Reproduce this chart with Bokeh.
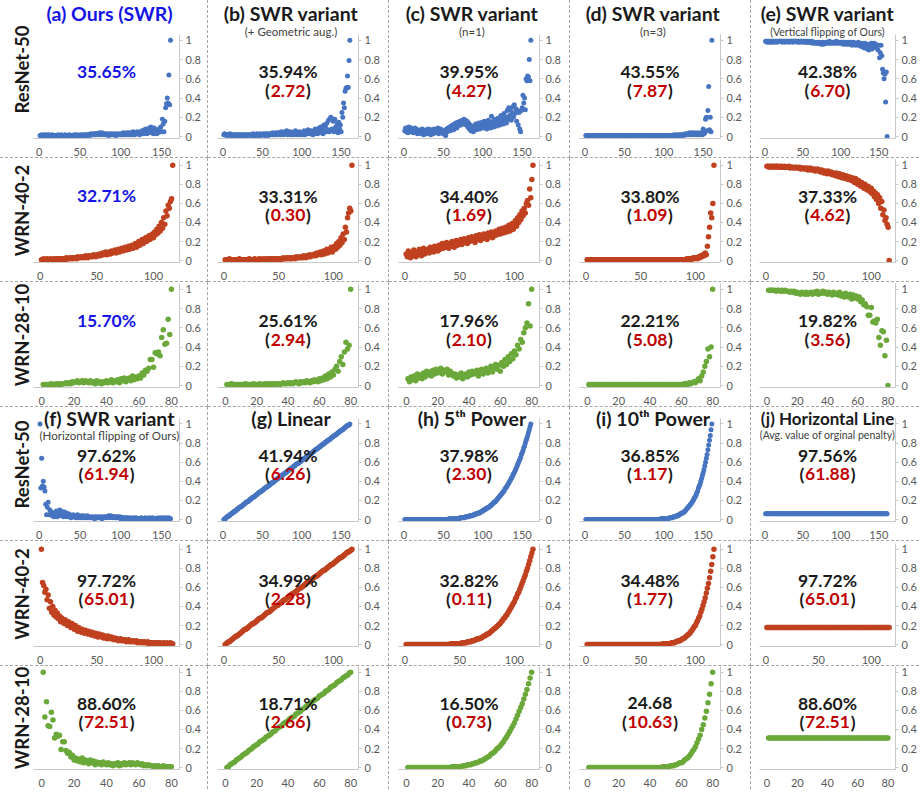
from bokeh.plotting import figure
from bokeh.models import Range1d, FixedTicker, Label, Title
from bokeh.layouts import row, column
from bokeh.embed import file_html
from bokeh.resources import INLINE

# ------------------------------------------------------------------ data
networks = ["ResNet-50", "WRN-40-2", "WRN-28-10"]
x_ticks = {"ResNet-50": [0, 50, 100, 150], "WRN-40-2": [0, 50, 100], "WRN-28-10": [0, 20, 40, 60, 80]}
y_ticks = [0, 0.2, 0.4, 0.6, 0.8, 1]
y_tick_labels = ["0", "0.2", "0.4", "0.6", "0.8", "1"]

top_titles = ["(a) Ours (SWR)", "(b) SWR variant", "(c) SWR variant", "(d) SWR variant", "(e) SWR variant"]
top_subtitles = ["", "(+ Geometric aug.)", "(n=1)", "(n=3)", "(Vertical flipping of Ours)"]
bottom_titles = ["(f) SWR variant", "(g) Linear", "(h) 5\u1d57\u02b0 Power", "(i) 10\u1d57\u02b0 Power", "(j) Horizontal Line"]
bottom_subtitles = ["(Horizontal flipping of Ours)", "", "", "", "(Avg. value of orginal penalty)"]

top_accuracy = {
    "ResNet-50": ["35.65%", "35.94%", "39.95%", "43.55%", "42.38%"],
    "WRN-40-2": ["32.71%", "33.31%", "34.40%", "33.80%", "37.33%"],
    "WRN-28-10": ["15.70%", "25.61%", "17.96%", "22.21%", "19.82%"],
}
top_gap = {
    "ResNet-50": [None, "2.72", "4.27", "7.87", "6.70"],
    "WRN-40-2": [None, "0.30", "1.69", "1.09", "4.62"],
    "WRN-28-10": [None, "2.94", "2.10", "5.08", "3.56"],
}
bottom_accuracy = {
    "ResNet-50": ["97.62%", "41.94%", "37.98%", "36.85%", "97.56%"],
    "WRN-40-2": ["97.72%", "34.99%", "32.82%", "34.48%", "97.72%"],
    "WRN-28-10": ["88.60%", "18.71%", "16.50%", "24.68", "88.60%"],
}
bottom_gap = {
    "ResNet-50": ["61.94", "6.26", "2.30", "1.17", "61.88"],
    "WRN-40-2": ["65.01", "2.28", "0.11", "1.77", "65.01"],
    "WRN-28-10": ["72.51", "2.66", "0.73", "10.63", "72.51"],
}

# ---- ResNet-50 (161 layers)
resnet_ours = [.01,.01,.02,.01,.01,.02,.01,.01,.02,.01,
    .01,.02,.01,.01,.01,.02,.01,.01,.01,.01,
    .01,.01,.02,.01,.01,.01,.02,.01,.01,.01,
    .01,.02,.01,.01,.01,.01,.02,.01,.01,.01,
    .01,.01,.02,.01,.01,.02,.01,.01,.01,.02,
    .01,.01,.02,.01,.02,.01,.02,.01,.02,.02,
    .02,.01,.03,.02,.02,.03,.02,.03,.02,.03,
    .03,.02,.03,.04,.03,.02,.04,.03,.03,.02,
    .03,.02,.03,.02,.01,.03,.02,.02,.03,.02,
    .02,.03,.02,.01,.03,.02,.02,.03,.02,.02,
    .03,.02,.04,.02,.03,.02,.04,.03,.02,.04,
    .02,.03,.04,.02,.05,.03,.02,.04,.03,.05,
    .03,.04,.02,.05,.03,.06,.04,.03,.07,.04,
    .08,.03,.07,.04,.09,.05,.1,.04,.08,.03,
    .09,.04,.07,.03,.06,.04,.08,.05,.1,.05,
    .18,.13,.05,.16,.3,.34,.4,.35,.64,.33,1.0]
resnet_geo = [.02,.03,.02,.01,.02,.02,.01,.02,.03,.01,
    .02,.01,.02,.02,.01,.02,.01,.02,.02,.01,
    .02,.01,.02,.01,.02,.02,.01,.02,.01,.02,
    .01,.02,.02,.01,.02,.01,.02,.03,.01,.02,
    .02,.01,.03,.02,.01,.02,.03,.01,.02,.02,
    .03,.02,.01,.03,.02,.03,.01,.02,.03,.02,
    .03,.02,.04,.02,.03,.02,.04,.03,.02,.04,
    .03,.04,.02,.05,.03,.04,.02,.05,.03,.04,
    .06,.02,.04,.03,.05,.02,.04,.03,.02,.05,
    .03,.06,.02,.04,.03,.02,.05,.03,.04,.02,
    .04,.03,.06,.02,.05,.03,.04,.07,.03,.05,
    .03,.06,.04,.02,.05,.03,.08,.04,.06,.03,
    .05,.09,.04,.1,.05,.08,.03,.12,.06,.11,
    .05,.14,.07,.17,.05,.19,.2,.08,.18,.16,
    .05,.18,.1,.06,.13,.04,.15,.08,.12,.05,
    .25,.2,.35,.3,.47,.5,.51,.63,.51,.79,1.0]
resnet_n1 = [.06,.09,.05,.08,.04,.1,.07,.05,.09,.06,
    .08,.04,.07,.09,.05,.06,.03,.07,.05,.04,
    .06,.03,.08,.05,.02,.06,.04,.07,.03,.05,
    .08,.04,.06,.02,.07,.05,.03,.08,.06,.04,
    .07,.05,.09,.03,.06,.08,.04,.07,.05,.03,
    .06,.02,.01,.08,.05,.09,.07,.1,.06,.11,
    .08,.12,.07,.13,.1,.14,.09,.15,.11,.13,
    .16,.12,.15,.17,.13,.18,.14,.17,.12,.16,
    .1,.14,.08,.12,.06,.11,.07,.05,.1,.08,
    .13,.07,.11,.09,.14,.08,.12,.1,.15,.09,
    .12,.16,.1,.14,.08,.13,.17,.11,.15,.09,
    .21,.12,.16,.1,.18,.13,.15,.11,.19,.14,
    .17,.12,.22,.15,.19,.13,.24,.16,.2,.14,
    .27,.18,.3,.22,.28,.17,.25,.31,.2,.33,
    .24,.29,.16,.27,.12,.25,.08,.05,.27,.3,
    .43,.35,.4,.28,.6,.58,.63,.62,.8,.58,1.0]
resnet_n3 = [.01,.01,.01,.01,.01,.01,.01,.01,.01,.01,
    .01,.01,.01,.01,.01,.01,.01,.01,.01,.01,
    .01,.01,.01,.01,.01,.01,.01,.01,.01,.01,
    .01,.01,.01,.01,.01,.01,.01,.01,.01,.01,
    .01,.01,.01,.01,.01,.01,.01,.01,.01,.01,
    .01,.01,.01,.01,.01,.01,.01,.01,.01,.01,
    .01,.01,.01,.01,.01,.01,.01,.01,.01,.01,
    .01,.01,.01,.01,.01,.01,.01,.01,.01,.01,
    .01,.01,.01,.01,.01,.01,.01,.01,.01,.01,
    .01,.01,.01,.01,.01,.01,.01,.01,.01,.01,
    .01,.01,.01,.01,.01,.01,.01,.01,.01,.01,
    .01,.01,.02,.01,.01,.02,.01,.01,.02,.01,
    .02,.01,.02,.02,.01,.02,.03,.02,.02,.03,
    .02,.03,.04,.02,.03,.04,.03,.02,.04,.03,
    .03,.02,.04,.03,.02,.03,.04,.03,.02,.08,
    .03,.04,.18,.2,.06,.27,.52,.07,.2,.05,1.0]
resnet_vflip = [.99,.99,.98,.99,.99,.98,.99,.99,.98,.99,
    .99,.98,.99,.99,.99,.98,.99,.99,.99,.99,
    .99,.99,.98,.99,.99,.99,.98,.99,.99,.99,
    .99,.98,.99,.99,.99,.99,.98,.99,.99,.99,
    .99,.99,.98,.99,.99,.98,.99,.99,.99,.98,
    .99,.99,.98,.99,.98,.99,.98,.99,.98,.98,
    .98,.99,.97,.98,.98,.97,.98,.97,.98,.97,
    .97,.98,.97,.96,.97,.98,.96,.97,.97,.98,
    .97,.98,.97,.98,.99,.97,.98,.98,.97,.98,
    .98,.97,.98,.99,.97,.98,.98,.97,.98,.98,
    .97,.98,.96,.98,.97,.98,.96,.97,.98,.96,
    .98,.97,.96,.98,.95,.97,.98,.96,.97,.95,
    .97,.96,.98,.95,.97,.94,.96,.97,.93,.96,
    .92,.97,.93,.96,.91,.95,.9,.96,.92,.97,
    .91,.96,.93,.97,.94,.96,.92,.95,.9,.95,
    .82,.87,.95,.84,.7,.66,.6,.65,.36,.67,0]
resnet_hflip = [1.0,.33,.64,.35,.4,.34,.3,.16,.05,.13,.18,
    .05,.1,.05,.08,.04,.06,.03,.07,.04,.09,
    .03,.08,.04,.1,.05,.09,.04,.07,.03,.08,
    .04,.07,.03,.04,.06,.03,.05,.02,.04,.03,
    .05,.03,.04,.02,.03,.05,.02,.04,.03,.02,
    .04,.02,.03,.04,.02,.03,.02,.04,.02,.03,
    .02,.02,.03,.02,.02,.03,.01,.02,.03,.02,
    .02,.03,.02,.02,.03,.01,.02,.03,.02,.03,
    .02,.03,.03,.04,.02,.03,.04,.03,.02,.03,
    .03,.02,.03,.02,.03,.02,.02,.03,.01,.02,
    .02,.02,.01,.02,.01,.02,.01,.02,.01,.01,
    .02,.01,.01,.01,.02,.01,.01,.02,.01,.01,
    .01,.01,.01,.02,.01,.01,.01,.01,.02,.01,
    .01,.01,.01,.02,.01,.01,.01,.02,.01,.01,
    .01,.01,.01,.01,.02,.01,.01,.01,.02,.01,
    .01,.02,.01,.01,.02,.01,.01,.02,.01,.01]
resnet_linear = [0,.01,.01,.02,.03,.03,.04,.04,.05,.06,.06,.07,.08,.08,.09,.09,
    .1,.11,.11,.12,.13,.13,.14,.14,.15,.16,.16,.17,.18,.18,.19,.19,
    .2,.21,.21,.22,.23,.23,.24,.24,.25,.26,.26,.27,.28,.28,.29,.29,
    .3,.31,.31,.32,.33,.33,.34,.34,.35,.36,.36,.37,.38,.38,.39,.39,
    .4,.41,.41,.42,.43,.43,.44,.44,.45,.46,.46,.47,.48,.48,.49,.49,
    .5,.51,.51,.52,.53,.53,.54,.54,.55,.56,.56,.57,.58,.58,.59,.59,
    .6,.61,.61,.62,.63,.63,.64,.64,.65,.66,.66,.67,.68,.68,.69,.69,
    .7,.71,.71,.72,.73,.73,.74,.74,.75,.76,.76,.77,.78,.78,.79,.79,
    .8,.81,.81,.82,.83,.83,.84,.84,.85,.86,.86,.87,.88,.88,.89,.89,
    .9,.91,.91,.92,.93,.93,.94,.94,.95,.96,.96,.97,.98,.98,.99,.99,1.0]
resnet_pow5 = [0,0,0,0,0,0,0,0,0,0, 0,0,0,0,0,0,0,0,0,0, 0,0,0,0,0,0,0,0,0,0,
    0,0,0,0,0,0,0,0,0,0, 0,0,0,0,0,0,0,0,0,0, 0,0,0,0,0,0,
    .01,.01,.01,.01,.01, .01,.01,.01,.01,.01, .01,.01,.01,.01,.02,
    .02,.02,.02,.02,.02, .02,.03,.03,.03,.03, .03,.04,.04,.04,.04,
    .04,.05,.05,.05,.06, .06,.06,.07,.07,.07, .08,.08,.09,.09,.1,
    .1,.11,.11,.12,.12, .13,.13,.14,.15,.15, .16,.17,.18,.18,.19,
    .2,.21,.22,.23,.24, .25,.26,.27,.28,.29, .3,.32,.33,.34,.35,
    .37,.38,.4,.41,.43, .44,.46,.48,.49,.51, .53,.55,.57,.59,.61,
    .63,.65,.68,.7,.72, .75,.77,.8,.83,.85, .88,.91,.94,.97,1.0]
resnet_pow10 = [0,0,0,0,0,0,0,0,0,0, 0,0,0,0,0,0,0,0,0,0, 0,0,0,0,0,0,0,0,0,0,
    0,0,0,0,0,0,0,0,0,0, 0,0,0,0,0,0,0,0,0,0, 0,0,0,0,0,0,0,0,0,0,
    0,0,0,0,0,0,0,0,0,0, 0,0,0,0,0,0,0,0,0,0, 0,0,0,0,0,0,0,0,0,0, 0,0,0,0,0,
    .01,.01,.01,.01,.01,.01, .01,.01,.01,.01,.01, .02,.02,.02,.02,.02,
    .03,.03,.03,.03,.04, .04,.04,.05,.05,.06, .06,.07,.07,.08,.08,
    .09,.1,.11,.12,.13, .14,.15,.16,.17,.18, .2,.21,.23,.24,.26,
    .28,.3,.33,.35,.37, .4,.43,.46,.49,.52, .56,.6,.64,.68,.73,
    .78,.83,.88,.94,1.0]

# ---- WRN-40-2 (117 layers)
wrn402_ours = [.01,.01,.02,.01,.01,.02,.01,.01,.02,.01,
    .01,.02,.01,.02,.01,.02,.02,.01,.02,.02,
    .02,.01,.03,.02,.02,.03,.02,.03,.02,.03,
    .03,.02,.04,.03,.03,.04,.03,.04,.03,.05,
    .04,.03,.05,.04,.05,.04,.06,.05,.04,.06,
    .05,.07,.05,.06,.08,.06,.07,.09,.06,.08,
    .09,.07,.1,.08,.09,.11,.08,.1,.12,.09,
    .11,.13,.1,.12,.14,.11,.13,.15,.12,.14,
    .16,.13,.15,.18,.14,.17,.2,.16,.19,.22,
    .18,.21,.24,.2,.23,.26,.22,.25,.28,.24,
    .3,.27,.33,.29,.36,.31,.4,.34,.45,.38,
    .52,.47,.58,.55,.62,.65,1.0]
wrn402_geo = [.01,.01,.01,.01,.02,.01,.01,.01,.01,.01,
    .01,.01,.01,.02,.01,.01,.01,.01,.01,.01,
    .01,.01,.02,.01,.01,.01,.01,.02,.01,.01,
    .01,.02,.01,.01,.02,.01,.01,.02,.01,.02,
    .01,.02,.01,.02,.02,.01,.02,.01,.02,.02,
    .02,.01,.02,.03,.02,.02,.03,.02,.03,.02,
    .03,.02,.03,.03,.02,.04,.03,.03,.04,.03,
    .04,.03,.05,.04,.03,.05,.04,.06,.04,.05,
    .06,.05,.07,.05,.08,.06,.07,.09,.06,.08,
    .1,.07,.09,.12,.08,.11,.1,.14,.09,.13,
    .15,.12,.18,.14,.2,.16,.24,.19,.28,.22,
    .35,.3,.45,.5,.55,.52,1.0]
wrn402_n1 = [.07,.04,.1,.06,.03,.08,.05,.11,.07,.04,
    .09,.06,.12,.08,.05,.1,.13,.07,.11,.09,
    .12,.08,.14,.1,.13,.09,.15,.11,.14,.1,
    .16,.12,.15,.18,.13,.17,.14,.19,.16,.13,
    .18,.15,.2,.17,.14,.19,.21,.16,.2,.18,
    .22,.17,.2,.23,.19,.21,.18,.24,.2,.22,
    .25,.21,.23,.19,.26,.22,.24,.27,.21,.25,
    .23,.28,.24,.26,.22,.29,.25,.27,.3,.24,
    .28,.26,.31,.27,.29,.33,.28,.3,.34,.29,
    .32,.35,.3,.34,.37,.31,.36,.39,.33,.38,
    .42,.36,.45,.4,.48,.43,.52,.47,.55,.5,
    .6,.63,.58,.75,.66,.85,1.0]
wrn402_n3 = [.01,.01,.01,.01,.01,.01,.01,.01,.01,.01,
    .01,.01,.01,.01,.01,.01,.01,.01,.01,.01,
    .01,.01,.01,.01,.01,.01,.01,.01,.01,.01,
    .01,.01,.01,.01,.01,.01,.01,.01,.01,.01,
    .01,.01,.01,.01,.01,.01,.01,.01,.01,.01,
    .01,.01,.01,.01,.01,.01,.01,.01,.01,.01,
    .01,.01,.01,.01,.01,.01,.01,.01,.01,.01,
    .01,.01,.01,.01,.01,.01,.01,.01,.01,.01,
    .01,.01,.01,.01,.01,.01,.01,.01,.01,.01,
    .01,.02,.01,.02,.02,.01,.02,.03,.02,.03,
    .03,.02,.04,.03,.05,.04,.06,.05,.08,.06,
    .15,.25,.35,.5,.45,.6,1.0]
wrn402_vflip = [.99,.99,.98,.99,.99,.98,.99,.99,.98,.99,
    .99,.98,.99,.98,.99,.98,.98,.99,.98,.98,
    .98,.99,.97,.98,.98,.97,.98,.97,.98,.97,
    .97,.98,.96,.97,.97,.96,.97,.96,.97,.95,
    .96,.97,.95,.96,.95,.96,.94,.95,.96,.94,
    .95,.93,.95,.94,.92,.94,.93,.91,.94,.92,
    .91,.93,.9,.92,.91,.89,.92,.9,.88,.91,
    .89,.87,.9,.88,.86,.89,.87,.85,.88,.86,
    .84,.87,.85,.82,.86,.83,.8,.84,.81,.78,
    .82,.79,.76,.8,.77,.74,.78,.75,.72,.76,
    .7,.73,.67,.71,.64,.69,.6,.66,.55,.62,
    .48,.53,.42,.45,.38,.35,0]
wrn402_hflip = [1.0,.65,.62,.55,.58,.47,.52,
    .38,.45,.34,.4,.31,.36,.29,.33,.27,.3,
    .24,.28,.25,.22,.26,.23,.2,.24,.21,.18,
    .22,.19,.16,.2,.17,.14,.18,.15,.13,.16,
    .14,.12,.15,.13,.11,.14,.12,.1,.13,.11,
    .09,.12,.1,.08,.11,.09,.08,.1,.07,.09,
    .08,.06,.09,.07,.06,.08,.06,.05,.07,.05,
    .06,.04,.05,.06,.04,.05,.04,.05,.03,.04,
    .05,.03,.04,.03,.04,.03,.03,.04,.02,.03,
    .03,.02,.03,.02,.03,.02,.02,.03,.01,.02,
    .02,.02,.01,.02,.02,.01,.02,.01,.02,.01,
    .01,.02,.01,.01,.02,.01,.01,.02,.01,.01]
wrn402_linear = [0,.01,.02,.03,.03,.04,.05,.06,.07,.08,.09,.09,.1,.11,.12,.13,.14,.15,.16,.16,
    .17,.18,.19,.2,.21,.22,.22,.23,.24,.25,.26,.27,.28,.28,.29,.3,.31,.32,.33,.34,
    .34,.35,.36,.37,.38,.39,.4,.41,.41,.42,.43,.44,.45,.46,.47,.47,.48,.49,.5,.51,
    .52,.53,.53,.54,.55,.56,.57,.58,.59,.59,.6,.61,.62,.63,.64,.65,.66,.66,.67,.68,
    .69,.7,.71,.72,.72,.73,.74,.75,.76,.77,.78,.78,.79,.8,.81,.82,.83,.84,.84,.85,
    .86,.87,.88,.89,.9,.91,.91,.92,.93,.94,.95,.96,.97,.97,.98,.99,1.0]
wrn402_pow5 = [0,0,0,0,0,0,0,0,0,0, 0,0,0,0,0,0,0,0,0,0, 0,0,0,0,0,0,0,0,0,0,
    0,0,0,0,0,0,0,0,0,0, 0,
    .01,.01,.01,.01,.01,.01,.01,.01,.01,.01,
    .02,.02,.02,.02,.02,.03,.03,.03,.03,.04,
    .04,.04,.05,.05,.06,.06,.06,.07,.07,.08,
    .09,.09,.1,.11,.11,.12,.13,.14,.15,.16,
    .17,.18,.19,.2,.21,.22,.24,.25,.27,.28,
    .3,.31,.33,.35,.37,.39,.41,.43,.45,.48,
    .5,.53,.55,.58,.61,.64,.67,.7,.73,.77,
    .8,.84,.88,.92,.96,1.0]
wrn402_pow10 = [0,0,0,0,0,0,0,0,0,0, 0,0,0,0,0,0,0,0,0,0, 0,0,0,0,0,0,0,0,0,0,
    0,0,0,0,0,0,0,0,0,0, 0,0,0,0,0,0,0,0,0,0, 0,0,0,0,0,0,0,0,0,0,
    0,0,0,0,0,0,0,0,0,
    .01,.01,.01,.01,.01,.01,.01,.01,.02,.02,.02,.02,
    .03,.03,.04,.04,.04,.05,.06,.06,.07,.08,.09,.1,
    .11,.12,.14,.15,.17,.19,.2,.23,.25,.28,.3,.34,
    .37,.41,.45,.49,.54,.59,.64,.7,.77,.84,.92,1.0]

# ---- WRN-28-10 (80 layers)
wrn2810_ours = [.01,.01,.01,.01,.01,.02,.01,.01,.02,.01,
    .02,.01,.02,.02,.03,.02,.03,.02,.04,.03,
    .04,.05,.03,.04,.05,.03,.05,.04,.03,.05,
    .03,.04,.02,.05,.03,.04,.02,.04,.03,.05,
    .03,.04,.06,.03,.05,.04,.06,.03,.07,.05,
    .08,.04,.07,.08,.05,.1,.06,.09,.07,.1,
    .08,.13,.11,.16,.15,.18,.27,.27,.19,.34,
    .33,.35,.31,.5,.58,.43,.44,.69,.53,1.0]
wrn2810_geo = [.01,.01,.01,.02,.01,.01,.01,.01,.01,.01,
    .01,.01,.02,.01,.01,.01,.01,.02,.01,.01,
    .01,.02,.01,.01,.02,.01,.02,.01,.02,.01,
    .02,.01,.02,.02,.01,.02,.03,.02,.02,.03,
    .02,.03,.02,.03,.04,.03,.02,.04,.03,.04,
    .03,.05,.04,.03,.05,.04,.06,.05,.04,.07,
    .05,.08,.06,.1,.07,.12,.09,.14,.11,.17,
    .2,.15,.25,.3,.22,.35,.45,.38,.42,1.0]
wrn2810_n1 = [.07,.04,.09,.06,.1,.05,.12,.08,.11,.07,
    .13,.09,.15,.11,.14,.1,.16,.12,.17,.13,
    .15,.18,.12,.16,.14,.17,.11,.15,.13,.1,
    .12,.08,.11,.09,.13,.07,.1,.12,.09,.14,
    .11,.15,.12,.13,.16,.1,.14,.17,.12,.15,
    .18,.13,.16,.2,.14,.19,.22,.17,.21,.15,
    .24,.2,.27,.22,.3,.25,.33,.28,.36,.32,
    .42,.38,.48,.45,.55,.6,.65,.85,.62,1.0]
wrn2810_n3 = [.01,.01,.01,.01,.01,.01,.01,.01,.01,.01,
    .01,.01,.01,.01,.01,.01,.01,.01,.01,.01,
    .01,.01,.01,.01,.01,.01,.01,.01,.01,.01,
    .01,.01,.01,.01,.01,.01,.01,.01,.01,.01,
    .01,.01,.01,.01,.01,.01,.01,.01,.01,.01,
    .01,.01,.01,.01,.01,.01,.01,.01,.01,.01,
    .01,.02,.02,.01,.03,.02,.03,.04,.03,.05,
    .07,.05,.1,.14,.2,.25,.38,.3,.4,1.0]
wrn2810_vflip = [.99,.99,.99,.99,.99,.98,.99,.99,.98,.99,
    .98,.99,.98,.98,.97,.98,.97,.98,.96,.97,
    .96,.95,.97,.96,.95,.97,.95,.96,.97,.95,
    .97,.96,.98,.95,.97,.96,.98,.96,.97,.95,
    .97,.96,.94,.97,.95,.96,.94,.97,.93,.95,
    .92,.96,.93,.92,.95,.9,.94,.91,.93,.9,
    .92,.87,.89,.84,.85,.82,.73,.73,.81,.66,
    .67,.65,.69,.5,.42,.57,.56,.31,.47,0]
wrn2810_hflip = [1.0,.53,.69,.44,.43,.58,.5,.31,.35,.33,
    .34,.19,.27,.27,.18,.15,.16,.11,.13,.08,
    .1,.07,.09,.06,.1,.05,.08,.07,.04,.08,
    .05,.07,.03,.06,.04,.05,.03,.06,.04,.03,
    .05,.03,.04,.02,.04,.03,.05,.02,.04,.03,
    .05,.03,.04,.05,.03,.05,.04,.03,.05,.04,
    .03,.04,.02,.03,.02,.03,.02,.02,.01,.02,
    .01,.02,.01,.01,.02,.01,.01,.01,.01,.01]
wrn2810_linear = [0,.01,.03,.04,.05,.06,.08,.09,.1,.11,.13,.14,.15,.16,.18,.19,.2,.22,.23,.24,
    .25,.27,.28,.29,.3,.32,.33,.34,.35,.37,.38,.39,.41,.42,.43,.44,.46,.47,.48,.49,
    .51,.52,.53,.54,.56,.57,.58,.59,.61,.62,.63,.65,.66,.67,.68,.7,.71,.72,.73,.75,
    .76,.77,.78,.8,.81,.82,.84,.85,.86,.87,.89,.9,.91,.92,.94,.95,.96,.97,.99,1.0]
wrn2810_pow5 = [0,0,0,0,0,0,0,0,0,0, 0,0,0,0,0,0,0,0,0,0, 0,0,0,0,0,0,0,0,
    .01,.01,.01,.01,.01,.01,.01,.02,.02,.02,.03,.03,.03,.04,.04,.05,.05,.06,.07,.07,
    .08,.09,.1,.11,.12,.14,.15,.16,.18,.2,.21,.23,.25,.27,.3,.32,.35,.38,.41,.44,
    .47,.51,.55,.59,.63,.67,.72,.77,.82,.88,.94,1.0]
wrn2810_pow10 = [0,0,0,0,0,0,0,0,0,0, 0,0,0,0,0,0,0,0,0,0, 0,0,0,0,0,0,0,0,0,0,
    0,0,0,0,0,0,0,0,0,0, 0,0,0,0,0,0,0,
    .01,.01,.01,.01,.01,.02,.02,.02,.03,.03,.04,.05,.05,.06,.08,.09,.1,.12,.14,.17,
    .19,.22,.26,.3,.34,.4,.45,.52,.59,.68,.77,.88,1.0]

# read level of the "(j) Horizontal Line" series
hline_values = {"ResNet-50": 0.06, "WRN-40-2": 0.18, "WRN-28-10": 0.31}

series = {
    "ResNet-50": [[resnet_ours, resnet_geo, resnet_n1, resnet_n3, resnet_vflip],
                  [resnet_hflip, resnet_linear, resnet_pow5, resnet_pow10, None]],
    "WRN-40-2": [[wrn402_ours, wrn402_geo, wrn402_n1, wrn402_n3, wrn402_vflip],
                 [wrn402_hflip, wrn402_linear, wrn402_pow5, wrn402_pow10, None]],
    "WRN-28-10": [[wrn2810_ours, wrn2810_geo, wrn2810_n1, wrn2810_n3, wrn2810_vflip],
                  [wrn2810_hflip, wrn2810_linear, wrn2810_pow5, wrn2810_pow10, None]],
}

# ------------------------------------------------------------------ style
NET_COLORS = {"ResNet-50": "#4674c1", "WRN-40-2": "#c0411f", "WRN-28-10": "#6aa83a"}
X_RANGE = {"ResNet-50": (-7, 172), "WRN-40-2": (-6, 123), "WRN-28-10": (-5, 85)}
COL_W = [209, 182, 182, 182, 168]
COL_BL = [33, 9, 9, 9, 8]
COL_BR = [29, 31, 31, 31, 22]
ROW_H = [159, 125, 126, 135, 126, 123]
ROW_BB = [16, 16, 17, 16, 16, 16]
PPU = 99.0           # pixels per unit of penalty
Y0 = -0.02
FONT = "Lato"
AX = "#c8c8c8"
TICK_TXT = "#595959"
DASH = "1px dashed #a6a6a6"
BLUE_TXT = "#1414e6"
RED_TXT = "#c00000"
BLACK_TXT = "#1a1a1a"
TITLE_FS = 19.5
SUB_FS = 11.5
ACC_FS = 17.5
ROWLAB_FS = 18.5


def text_w(s, fs):
    return sum(0.58 if ch.isdigit() else 0.27 for ch in s) * fs


def add_label(p, x, y, text, fs, color, bold=True, x_off=0, align="center"):
    p.add_layout(Label(x=x, y=y, text=text, x_offset=x_off, text_align=align,
                       text_baseline="middle", text_font=FONT, text_font_size=f"{fs}px",
                       text_font_style="bold" if bold else "normal", text_color=color))


def make_panel(r, c, net, block):
    w = COL_W[c] - (1 if c < 4 else 0)
    h = ROW_H[r] - (1 if r < 5 else 0)
    xr = X_RANGE[net]
    frame_h = h - ROW_BB[r]
    y1 = Y0 + frame_h / PPU
    styles = {}
    if c < 4:
        styles["border-right"] = DASH
    if r < 5:
        styles["border-bottom"] = DASH
    p = figure(width=w, height=h, x_range=Range1d(*xr), y_range=Range1d(Y0, y1),
               output_backend="svg", toolbar_location=None, y_axis_location="right",
               min_border_left=COL_BL[c], min_border_right=COL_BR[c],
               min_border_top=0, min_border_bottom=ROW_BB[r], styles=styles)
    p.outline_line_color = None
    p.grid.grid_line_color = None
    p.background_fill_color = "white"
    p.border_fill_color = "white"

    xa = p.xaxis[0]
    xa.ticker = FixedTicker(ticks=x_ticks[net])
    xa.major_tick_line_color = None
    xa.minor_tick_line_color = None
    xa.axis_line_color = AX
    xa.major_label_standoff = 3
    ya = p.yaxis[0]
    ya.ticker = FixedTicker(ticks=y_ticks)
    ya.major_label_overrides = dict(zip(y_ticks, y_tick_labels))
    ya.bounds = (Y0, 1.06)
    ya.major_tick_out = 3
    ya.major_tick_in = 0
    ya.minor_tick_line_color = None
    ya.major_tick_line_color = AX
    ya.axis_line_color = AX
    ya.major_label_standoff = 3
    for ax in (xa, ya):
        ax.major_label_text_font = FONT
        ax.major_label_text_font_size = "11px"
        ax.major_label_text_color = TICK_TXT

    if c == 0:
        shift = -(y1 - 1.06) * PPU / 2
        p.add_layout(Title(text=net, align="center", text_font=FONT,
                           text_font_size=f"{ROWLAB_FS}px", text_font_style="bold",
                           text_color=BLACK_TXT, standoff=2, offset=shift), "left")

    ys = series[net][block][c]
    if ys is None:
        n = len(series[net][0][0])
        ys = [hline_values[net]] * n
    xs = list(range(1, len(ys) + 1))
    p.scatter(x=xs, y=ys, size=5 if net == "ResNet-50" else 5.5,
              fill_color=NET_COLORS[net], line_color=None)

    xc = (xr[0] + xr[1]) / 2
    first_row = net == networks[0]
    if block == 0:
        title, sub = top_titles[c], top_subtitles[c]
        acc, gap = top_accuracy[net][c], top_gap[net][c]
        ty, sy = 1.28, 1.09
    else:
        title, sub = bottom_titles[c], bottom_subtitles[c]
        acc, gap = bottom_accuracy[net][c], bottom_gap[net][c]
        ty, sy = 1.06, 0.88
    toff = 3 if c < 4 else 0
    if first_row:
        tfs = TITLE_FS if not (c == 4 and block == 1) else 17
        add_label(p, xc, ty, title, tfs, BLUE_TXT if (block == 0 and c == 0) else BLACK_TXT, x_off=toff)
        if sub:
            add_label(p, xc, sy, sub, SUB_FS if c < 4 else 10.5, "#404040", bold=False, x_off=toff)
    acc_color = BLUE_TXT if (block == 0 and c == 0) else BLACK_TXT
    add_label(p, xc, 0.675 if gap else 0.68, acc, ACC_FS, acc_color)
    if gap:
        gw = text_w(gap, ACC_FS)
        add_label(p, xc, 0.475, gap, ACC_FS, RED_TXT)
        add_label(p, xc, 0.475, "(", ACC_FS, BLACK_TXT, x_off=-gw / 2 - 0.5, align="right")
        add_label(p, xc, 0.475, ")", ACC_FS, BLACK_TXT, x_off=gw / 2 + 0.5, align="left")
    return p


rows = []
for block in (0, 1):
    for k, net in enumerate(networks):
        r = block * 3 + k
        rows.append(row(*[make_panel(r, c, net, block) for c in range(5)]))

layout = column(*rows)
open("out.html", "w").write(file_html(layout, INLINE))
